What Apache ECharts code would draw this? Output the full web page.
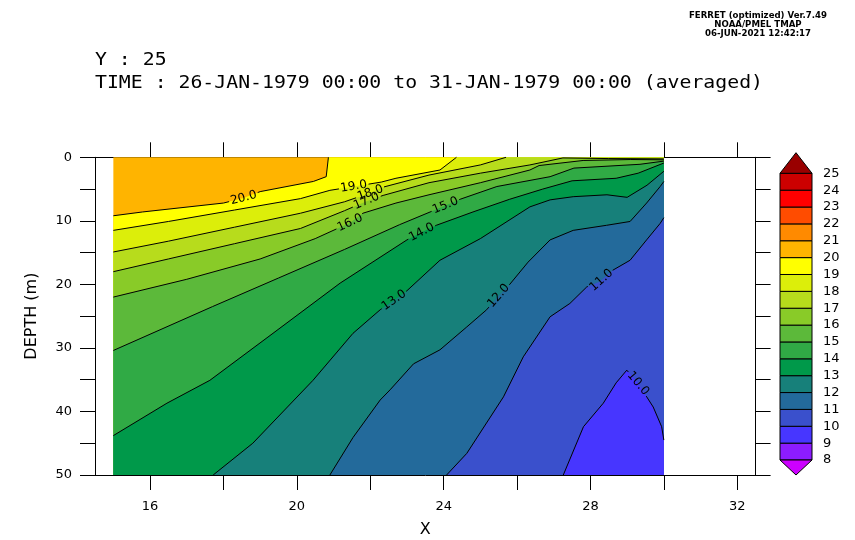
<!DOCTYPE html>
<html>
<head>
<meta charset="utf-8">
<script src="https://cdn.jsdelivr.net/npm/echarts@6/dist/echarts.min.js"></script>
<style>
  html, body { margin: 0; padding: 0; background: #fff; }
  #chart { width: 855px; height: 540px; }
</style>
</head>
<body>
<div id="chart"></div>
<script>
// Contour levels; band i is coloured bandColors[i] and spans levels[i]..levels[i+1]
const levels = [8, 9, 10, 11, 12, 13, 14, 15, 16, 17, 18, 19, 20, 21, 22, 23, 24, 25];
const bandColors = [
  '#8c1cff', '#4736ff', '#3a50cc', '#236a9b', '#17807a', '#00994a', '#30aa45',
  '#5cb93a', '#89cb28', '#b7dc1c', '#dcee0a', '#ffff00', '#ffb400', '#ff8a00',
  '#ff4c00', '#ff0000', '#cc0000'
];
const underColor = '#cc00ff';
const overColor = '#990000';

// Axis ticks
const xTicks = [16, 18, 20, 22, 24, 26, 28, 30, 32];
const xTickLabels = [16, 20, 24, 28, 32];
const depthTicks = [0, 5, 10, 15, 20, 25, 30, 35, 40, 45, 50];
const depthTickLabels = [0, 10, 20, 30, 40, 50];

// Extent of the temperature section
const xStart = 15, xEnd = 30, depthMax = 50;
const surfaceLevel = 20;   // warmest band at the surface on the left: 20-21

// Contour paths as [x, depth (m)], left/bottom end first
const c20 = [[15, 9.2], [15.8, 8.6], [18.0, 7.2], [18.55, 6.4], [19.0, 5.4], [20.45, 3.8], [20.8, 3.05], [20.86, 0]];
const c19 = [[15, 11.5], [16.5, 10.1], [18.3, 8.3], [20.1, 6.5], [20.9, 5.2], [21.55, 4.6], [22.3, 3.9], [22.7, 3.3], [23.9, 2.0], [24.35, 0]];
const c18 = [[15, 14.9], [16.5, 13.2], [18.3, 11.0], [20.1, 8.8], [21.3, 7.0], [22.0, 5.6], [22.35, 4.7], [23.6, 2.8], [25.0, 1.2], [25.7, 0]];
const c17 = [[15, 18.0], [16.5, 16.0], [18.3, 13.6], [20.1, 11.2], [21.3, 8.4], [21.9, 6.9], [22.35, 6.0], [23.6, 4.0], [25.0, 2.5], [26.35, 1.2], [27.25, 0.1], [28.5, 0.2], [30, 0.25]];
const c16 = [[15, 22.0], [17, 19.2], [19, 16.0], [20.5, 12.8], [21.45, 10.3], [21.8, 8.8], [22.7, 7.2], [23.6, 5.9], [25.0, 4.0], [26.35, 2.0], [26.6, 1.3], [27.8, 0.5], [29.1, 0.35], [30, 0.4]];
const c15 = [[15, 30.4], [17.7, 23.5], [19.5, 19.0], [21.3, 14.5], [22.8, 10.6], [24.05, 7.6], [24.45, 6.6], [25.45, 4.6], [26.9, 3.05], [27.55, 1.7], [29.35, 1.1], [30, 0.6]];
const c14 = [[15, 43.8], [16.46, 38.7], [17.63, 35.1], [19.35, 27.7], [21.18, 19.8], [23.0, 13.0], [23.4, 11.8], [23.8, 10.7], [24.8, 8.6], [25.8, 6.6], [26.7, 5.0], [27.5, 3.7], [28.7, 3.3], [29.3, 2.5], [30, 0.9]];
const c13 = [[17.72, 50], [18.8, 45], [20.44, 35.1], [21.53, 27.7], [22.27, 24.0], [22.65, 22.5], [23.0, 21.0], [23.9, 16.2], [25.0, 12.8], [26.35, 7.8], [26.9, 6.7], [27.53, 6.2], [28.45, 5.9], [29.0, 6.3], [29.54, 4.4], [30, 2.2]];
const c12 = [[20.9, 50], [21.53, 44.1], [22.27, 38.2], [22.54, 36.6], [23.18, 32.5], [23.9, 30.3], [24.63, 26.7], [25.17, 24.0], [25.5, 21.8], [25.8, 20.0], [26.3, 16.5], [26.9, 13.0], [27.53, 11.5], [28.44, 10.7], [29.08, 10.1], [29.53, 7.2], [29.9, 4.6], [30, 3.8]];
const c11 = [[24.08, 50], [24.63, 46.6], [25.63, 37.7], [26.17, 31.4], [26.9, 25.1], [27.44, 23.0], [27.9, 20.4], [28.25, 19.6], [28.6, 17.8], [29.08, 16.2], [29.53, 13.0], [29.9, 10.4], [30, 9.5]];
const c10 = [[27.26, 50], [27.81, 42.4], [28.35, 38.7], [28.7, 35.5], [28.99, 33.5], [29.3, 35.6], [29.71, 39.3], [29.94, 42.4], [30, 44.5]];

const contours = [
  { level: 20, path: c20 }, { level: 19, path: c19 }, { level: 18, path: c18 },
  { level: 17, path: c17 }, { level: 16, path: c16 }, { level: 15, path: c15 },
  { level: 14, path: c14 }, { level: 13, path: c13 }, { level: 12, path: c12 },
  { level: 11, path: c11 }, { level: 10, path: c10 }
];

// Where each contour carries its value label: [level, x]
const contourLabels = [[20, 18.55], [19, 21.55], [18, 22.0], [17, 21.9], [16, 21.45], [15, 24.05], [14, 23.4], [13, 22.65], [12, 25.5], [11, 28.3], [10, 29.3]];

const titleY = 'Y : 25';
const titleTime = 'TIME : 26-JAN-1979 00:00 to 31-JAN-1979 00:00 (averaged)';
const stampLines = ['FERRET (optimized) Ver.7.49', 'NOAA/PMEL TMAP', '06-JUN-2021 12:42:17'];

// ---------------------------------------------------------------------------
const FONT = '"DejaVu Sans", sans-serif';

function bandColor(lower) {
  return bandColors[levels.indexOf(lower)];
}

// Region colder than a contour: the path closed along the bottom/right edges
function closeBelow(path) {
  const pts = path.slice();
  const start = pts[0], end = pts[pts.length - 1];
  if (end[1] === 0 && end[0] < xEnd) pts.push([xEnd, 0]);
  pts.push([xEnd, depthMax]);
  if (start[0] === xStart) pts.push([xStart, depthMax]);
  return pts;
}

// Point on a path at a given x, plus the segment it sits on
function labelPlacement(path, x) {
  for (let i = 0; i < path.length - 1; i++) {
    const a = path[i], b = path[i + 1];
    const lo = Math.min(a[0], b[0]), hi = Math.max(a[0], b[0]);
    if (x >= lo && x <= hi && hi > lo) {
      const t = (x - a[0]) / (b[0] - a[0]);
      return { point: [x, a[1] + t * (b[1] - a[1])], a, b };
    }
  }
  return null;
}

// Remove the part of a pixel polyline that falls within r of c (gap for a label)
function splitAround(pts, c, r) {
  const pieces = [];
  let cur = [];
  const inside = p => (p[0] - c[0]) ** 2 + (p[1] - c[1]) ** 2 < r * r;
  if (!inside(pts[0])) cur.push(pts[0]);
  for (let i = 0; i < pts.length - 1; i++) {
    const a = pts[i], b = pts[i + 1];
    const dx = b[0] - a[0], dy = b[1] - a[1], fx = a[0] - c[0], fy = a[1] - c[1];
    const A = dx * dx + dy * dy, B = 2 * (fx * dx + fy * dy), C = fx * fx + fy * fy - r * r;
    const disc = B * B - 4 * A * C;
    let lo = 1, hi = 0;
    if (A > 0 && disc > 0) {
      const s = Math.sqrt(disc);
      lo = Math.max(0, (-B - s) / (2 * A));
      hi = Math.min(1, (-B + s) / (2 * A));
    }
    if (lo < hi) {
      if (lo > 0) cur.push([a[0] + dx * lo, a[1] + dy * lo]);
      if (cur.length > 1) pieces.push(cur);
      cur = [];
      if (hi < 1) { cur.push([a[0] + dx * hi, a[1] + dy * hi]); cur.push(b); }
    } else {
      cur.push(b);
    }
  }
  if (cur.length > 1) pieces.push(cur);
  return pieces;
}

function renderFill(params, api) {
  const i = api.value(2);
  let path, color;
  if (i < 0) {
    path = [[xStart, 0], [xEnd, 0], [xEnd, depthMax], [xStart, depthMax]];
    color = bandColor(surfaceLevel);
  } else {
    path = closeBelow(contours[i].path);
    color = bandColor(contours[i].level - 1);
  }
  return {
    type: 'polygon',
    shape: { points: path.map(p => api.coord(p)) },
    style: { fill: color, stroke: null }
  };
}

function renderLines(params, api) {
  const c = contours[api.value(2)];
  const px = c.path.map(p => api.coord(p));
  const children = [];
  let pieces = [px];
  const lab = contourLabels.find(l => l[0] === c.level);
  if (lab) {
    const pos = labelPlacement(c.path, lab[1]);
    if (pos) {
      const cp = api.coord(pos.point), a = api.coord(pos.a), b = api.coord(pos.b);
      let ang = Math.atan2(-(b[1] - a[1]), b[0] - a[0]);
      if (ang > Math.PI / 2) ang -= Math.PI;
      if (ang < -Math.PI / 2) ang += Math.PI;
      pieces = splitAround(px, cp, 15);
      children.push({
        type: 'text', x: cp[0], y: cp[1], rotation: ang, z2: 10,
        style: { text: c.level.toFixed(1), font: '12px ' + FONT, fill: '#000', align: 'center', verticalAlign: 'middle' }
      });
    }
  }
  pieces.forEach(pc => children.unshift({
    type: 'polyline', shape: { points: pc },
    style: { stroke: '#000', lineWidth: 1, fill: null }
  }));
  return { type: 'group', children };
}

// Colour bar
const cb = { left: 780, right: 812, top: 173.3, bottom: 460, apexTop: 152.7, apexBottom: 475, labelX: 823 };
const cbStep = (cb.bottom - cb.top) / bandColors.length;
const cbMid = (cb.left + cb.right) / 2;
const colorBar = [];
bandColors.forEach((col, i) => colorBar.push({
  type: 'rect',
  shape: { x: cb.left, y: cb.bottom - (i + 1) * cbStep, width: cb.right - cb.left, height: cbStep },
  style: { fill: col, stroke: '#000', lineWidth: 1 }
}));
colorBar.push({ type: 'polygon', shape: { points: [[cb.left, cb.top], [cb.right, cb.top], [cbMid, cb.apexTop]] }, style: { fill: overColor, stroke: '#000', lineWidth: 1 } });
colorBar.push({ type: 'polygon', shape: { points: [[cb.left, cb.bottom], [cb.right, cb.bottom], [cbMid, cb.apexBottom]] }, style: { fill: underColor, stroke: '#000', lineWidth: 1 } });
levels.forEach((lv, i) => colorBar.push({
  type: 'text', x: cb.labelX, y: cb.bottom - i * cbStep,
  style: { text: String(lv), font: '13px ' + FONT, fill: '#000', align: 'left', verticalAlign: 'middle' }
}));

// Titles, stretched to the wide plot-title lettering
const titleFont = '18px "DejaVu Sans Mono", monospace';
const mctx = document.createElement('canvas').getContext('2d');
mctx.font = titleFont;
const titleScale = 668 / mctx.measureText(titleTime).width;

const texts = [
  { type: 'text', x: 95, y: 60, scaleX: titleScale, style: { text: titleY, font: titleFont, fill: '#000', verticalAlign: 'middle' } },
  { type: 'text', x: 95, y: 83, scaleX: titleScale, style: { text: titleTime, font: titleFont, fill: '#000', verticalAlign: 'middle' } }
];
stampLines.forEach((t, i) => texts.push({
  type: 'text', x: 758, y: 15.5 + i * 9.3,
  style: { text: t, font: 'bold 8.6px ' + FONT, fill: '#000', align: 'center', verticalAlign: 'middle' }
}));

const axisLineStyle = { show: true, onZero: false, lineStyle: { color: '#000', width: 1 } };
const tickStyle = { show: true, inside: false, length: 15, lineStyle: { color: '#000', width: 1 } };
const labelStyle = { color: '#000', fontSize: 13, fontFamily: FONT };

const chart = echarts.init(document.getElementById('chart'), null, { renderer: 'canvas' });
chart.setOption({
  animation: false,
  backgroundColor: '#fff',
  grid: { left: 95, right: 99.4, top: 157.3, bottom: 65, containLabel: false, outerBoundsMode: 'none' },
  xAxis: [
    {
      type: 'value', min: 14.5, max: 32.5, position: 'bottom',
      axisLine: axisLineStyle,
      axisTick: Object.assign({ customValues: xTicks }, tickStyle),
      axisLabel: Object.assign({ customValues: xTickLabels, margin: 25 }, labelStyle),
      splitLine: { show: false },
      name: 'X', nameLocation: 'middle', nameGap: 47,
      nameTextStyle: { color: '#000', fontSize: 16, fontFamily: FONT }
    },
    {
      type: 'value', min: 14.5, max: 32.5, position: 'top',
      axisLine: axisLineStyle,
      axisTick: Object.assign({ customValues: xTicks }, tickStyle),
      axisLabel: { show: false },
      splitLine: { show: false }
    }
  ],
  yAxis: [
    {
      type: 'value', min: 0, max: depthMax, inverse: true, position: 'left',
      axisLine: axisLineStyle,
      axisTick: Object.assign({ customValues: depthTicks }, tickStyle),
      axisLabel: Object.assign({ customValues: depthTickLabels, margin: 23 }, labelStyle),
      splitLine: { show: false },
      name: 'DEPTH (m)', nameLocation: 'middle', nameGap: 55,
      nameTextStyle: { color: '#000', fontSize: 16, fontFamily: FONT }
    },
    {
      type: 'value', min: 0, max: depthMax, inverse: true, position: 'right',
      axisLine: axisLineStyle,
      axisTick: Object.assign({ customValues: depthTicks }, tickStyle),
      axisLabel: { show: false },
      splitLine: { show: false }
    }
  ],
  graphic: colorBar.concat(texts),
  series: [
    {
      type: 'custom', name: 'temperature', xAxisIndex: 0, yAxisIndex: 0,
      renderItem: renderFill, encode: { x: 0, y: 1 }, silent: true, z: 1,
      data: [[xStart, 0, -1]].concat(contours.map((c, i) => [xStart, 0, i]))
    },
    {
      type: 'custom', name: 'contours', xAxisIndex: 0, yAxisIndex: 0,
      renderItem: renderLines, encode: { x: 0, y: 1 }, silent: true, z: 2,
      data: contours.map((c, i) => [xStart, 0, i])
    }
  ]
});
</script>
</body>
</html>
